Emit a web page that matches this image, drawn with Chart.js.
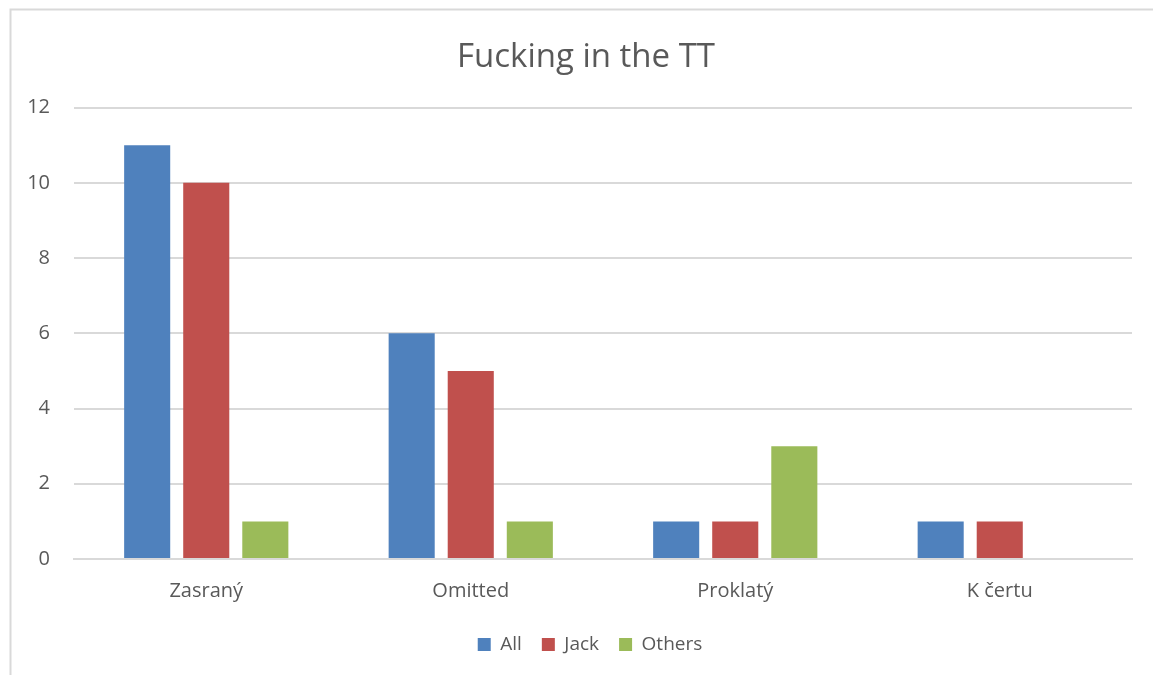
<!DOCTYPE html>
<html>
<head>
<meta charset="utf-8">
<script src="https://cdn.jsdelivr.net/npm/chart.js@4/dist/chart.umd.min.js"></script>
<style>
html,body{margin:0;padding:0;background:#fff;}
#wrap{position:relative;width:1153px;height:675px;}
</style>
</head>
<body>
<div id="wrap"><canvas id="c" width="1153" height="675"></canvas></div>
<script>
const categories = ["Zasraný", "Omitted", "Proklatý", "K čertu"];
const seriesNames = ["All", "Jack", "Others"];
const allValues = [11, 6, 1, 1];
const jackValues = [10, 5, 1, 1];
const othersValues = [1, 1, 3, 0];
const colors = ["#4F81BD", "#C0504D", "#9BBB59"];
const titleText = "Fucking in the TT";

const FONT = "'Open Sans', 'Noto Sans', sans-serif";
const TXT = "#595959";

const borderPlugin = {
  id: 'outerBorder',
  beforeDraw(chart) {
    const ctx = chart.ctx;
    ctx.save();
    ctx.fillStyle = '#fff';
    ctx.fillRect(0, 0, chart.width, chart.height);
    ctx.strokeStyle = '#d9d9d9';
    ctx.lineWidth = 2;
    ctx.beginPath();
    ctx.moveTo(10.5, chart.height);
    ctx.lineTo(10.5, 9.5);
    ctx.lineTo(chart.width, 9.5);
    ctx.stroke();
    ctx.restore();
  }
};

// nudge title/legend horizontally to match the reference centring
const shiftPlugin = {
  id: 'shiftBoxes',
  afterLayout(chart) {
    if (chart.titleBlock) { chart.titleBlock.left += 10; chart.titleBlock.right += 10; }
    if (chart.legend) { chart.legend.left += 14; chart.legend.right += 14; }
  }
};

new Chart(document.getElementById('c'), {
  type: 'bar',
  data: {
    labels: categories,
    datasets: [
      { label: seriesNames[0], data: allValues, backgroundColor: colors[0] },
      { label: seriesNames[1], data: jackValues, backgroundColor: colors[1] },
      { label: seriesNames[2], data: othersValues, backgroundColor: colors[2] }
    ]
  },
  options: {
    responsive: false,
    animation: false,
    layout: { padding: { left: 20, right: 21, top: 38, bottom: 11 } },
    datasets: { bar: { categoryPercentage: 0.67, barPercentage: 0.78 } },
    plugins: {
      title: {
        display: true,
        text: titleText,
        color: TXT,
        font: { family: FONT, size: 33, weight: 'normal' },
        padding: { top: 0, bottom: 30 }
      },
      legend: {
        position: 'bottom',
        labels: {
          color: TXT,
          font: { family: FONT, size: 19 },
          boxWidth: 13,
          boxHeight: 13,
          padding: 20
        }
      },
      tooltip: { enabled: false }
    },
    scales: {
      x: {
        afterFit(scale) { scale.height -= 8; },
        grid: { display: false, drawTicks: false },
        border: { display: true, color: '#d9d9d9', width: 2 },
        ticks: { color: TXT, font: { family: FONT, size: 20 }, padding: 20 }
      },
      y: {
        min: 0, max: 12,
        afterFit(scale) { scale.width = 54; },
        grid: { color: '#d9d9d9', lineWidth: 2, drawTicks: false },
        border: { display: false },
        ticks: { stepSize: 2, color: TXT, font: { family: FONT, size: 20 }, padding: 24 }
      }
    }
  },
  plugins: [borderPlugin, shiftPlugin]
});
</script>
</body>
</html>
